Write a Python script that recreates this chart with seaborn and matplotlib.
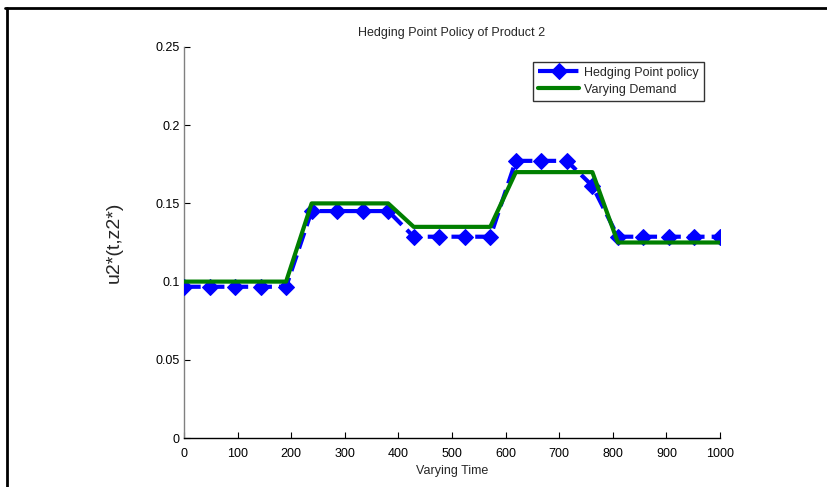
import numpy as np
import pandas as pd
import matplotlib
matplotlib.use("Agg")
import matplotlib.pyplot as plt
import seaborn as sns
from matplotlib.lines import Line2D

# Time grid (22 equally spaced samples over 0..1000)
time = np.linspace(0, 1000, 22)

# Hedging point policy u2*(t, z2*)
hedging = [0.0967, 0.0967, 0.0967, 0.0967, 0.0967,
           0.1451, 0.1451, 0.1451, 0.1451,
           0.1287, 0.1287, 0.1287, 0.1287,
           0.1772, 0.1772, 0.1772,
           0.1612,
           0.1287, 0.1287, 0.1287, 0.1287, 0.1287]

# Piecewise varying demand
demand = [0.100, 0.100, 0.100, 0.100, 0.100,
          0.150, 0.150, 0.150, 0.150,
          0.135, 0.135, 0.135, 0.135,
          0.170, 0.170, 0.170, 0.170,
          0.125, 0.125, 0.125, 0.125, 0.125]

x_ticks = [0, 100, 200, 300, 400, 500, 600, 700, 800, 900, 1000]
y_ticks = [0, 0.05, 0.1, 0.15, 0.2, 0.25]
y_tick_labels = ["0", "0.05", "0.1", "0.15", "0.2", "0.25"]

sns.set_style("white")
plt.rcParams["font.family"] = ["Liberation Sans", "DejaVu Sans"]

df = pd.DataFrame({"t": time, "hedging": hedging, "demand": demand})

fig = plt.figure(figsize=(8.27, 4.87), dpi=100)
ax = fig.add_axes([0.2225, 0.1006, 0.8706 - 0.2225, 0.9035 - 0.1006])

sns.lineplot(data=df, x="t", y="hedging", ax=ax, color="#0000ff",
             linestyle=(0, (4, 1.7)), linewidth=3, marker="D", markersize=8.5,
             markerfacecolor="#0000ff", markeredgecolor="#0000ff",
             label="Hedging Point policy", zorder=3)
sns.lineplot(data=df, x="t", y="demand", ax=ax, color="#007f00",
             linewidth=3, label="Varying Demand", zorder=4)

ax.set_xlim(0, 1000)
ax.set_ylim(0, 0.25)
ax.set_xticks(x_ticks)
ax.set_yticks(y_ticks)
ax.set_yticklabels(y_tick_labels)
ax.tick_params(axis="both", which="major", bottom=True, left=True,
               direction="in", length=4, width=0.8,
               labelsize=9, colors="black")
ax.tick_params(axis="x", pad=7)
ax.tick_params(axis="y", pad=3)

for side in ("top", "right"):
    ax.spines[side].set_visible(False)
ax.spines["left"].set_color("#808080")
ax.spines["bottom"].set_color("black")
for side in ("left", "bottom"):
    ax.spines[side].set_linewidth(1.0)

ax.set_title("Hedging Point Policy of Product 2", fontsize=9, pad=8)
ax.set_xlabel("Varying Time", fontsize=9, labelpad=4)
ax.set_ylabel("u2*(t,z2*)", fontsize=14, labelpad=24)

leg = ax.legend(loc="upper left", bbox_to_anchor=(0.651, 0.962),
                borderaxespad=0, fontsize=9, frameon=True, fancybox=False,
                handlelength=3.3, handletextpad=0.4, borderpad=0.4,
                labelspacing=0.4)
leg.get_frame().set_edgecolor("black")
leg.get_frame().set_linewidth(1.0)

# Frame lines along the top and left edges of the figure
fig.add_artist(Line2D([5 / 827, 1.0], [1 - 8 / 487, 1 - 8 / 487],
                      transform=fig.transFigure, color="black", linewidth=2))
fig.add_artist(Line2D([7 / 827, 7 / 827], [0, 1 - 8 / 487],
                      transform=fig.transFigure, color="black", linewidth=2))

fig.savefig("out.png", dpi=100)
